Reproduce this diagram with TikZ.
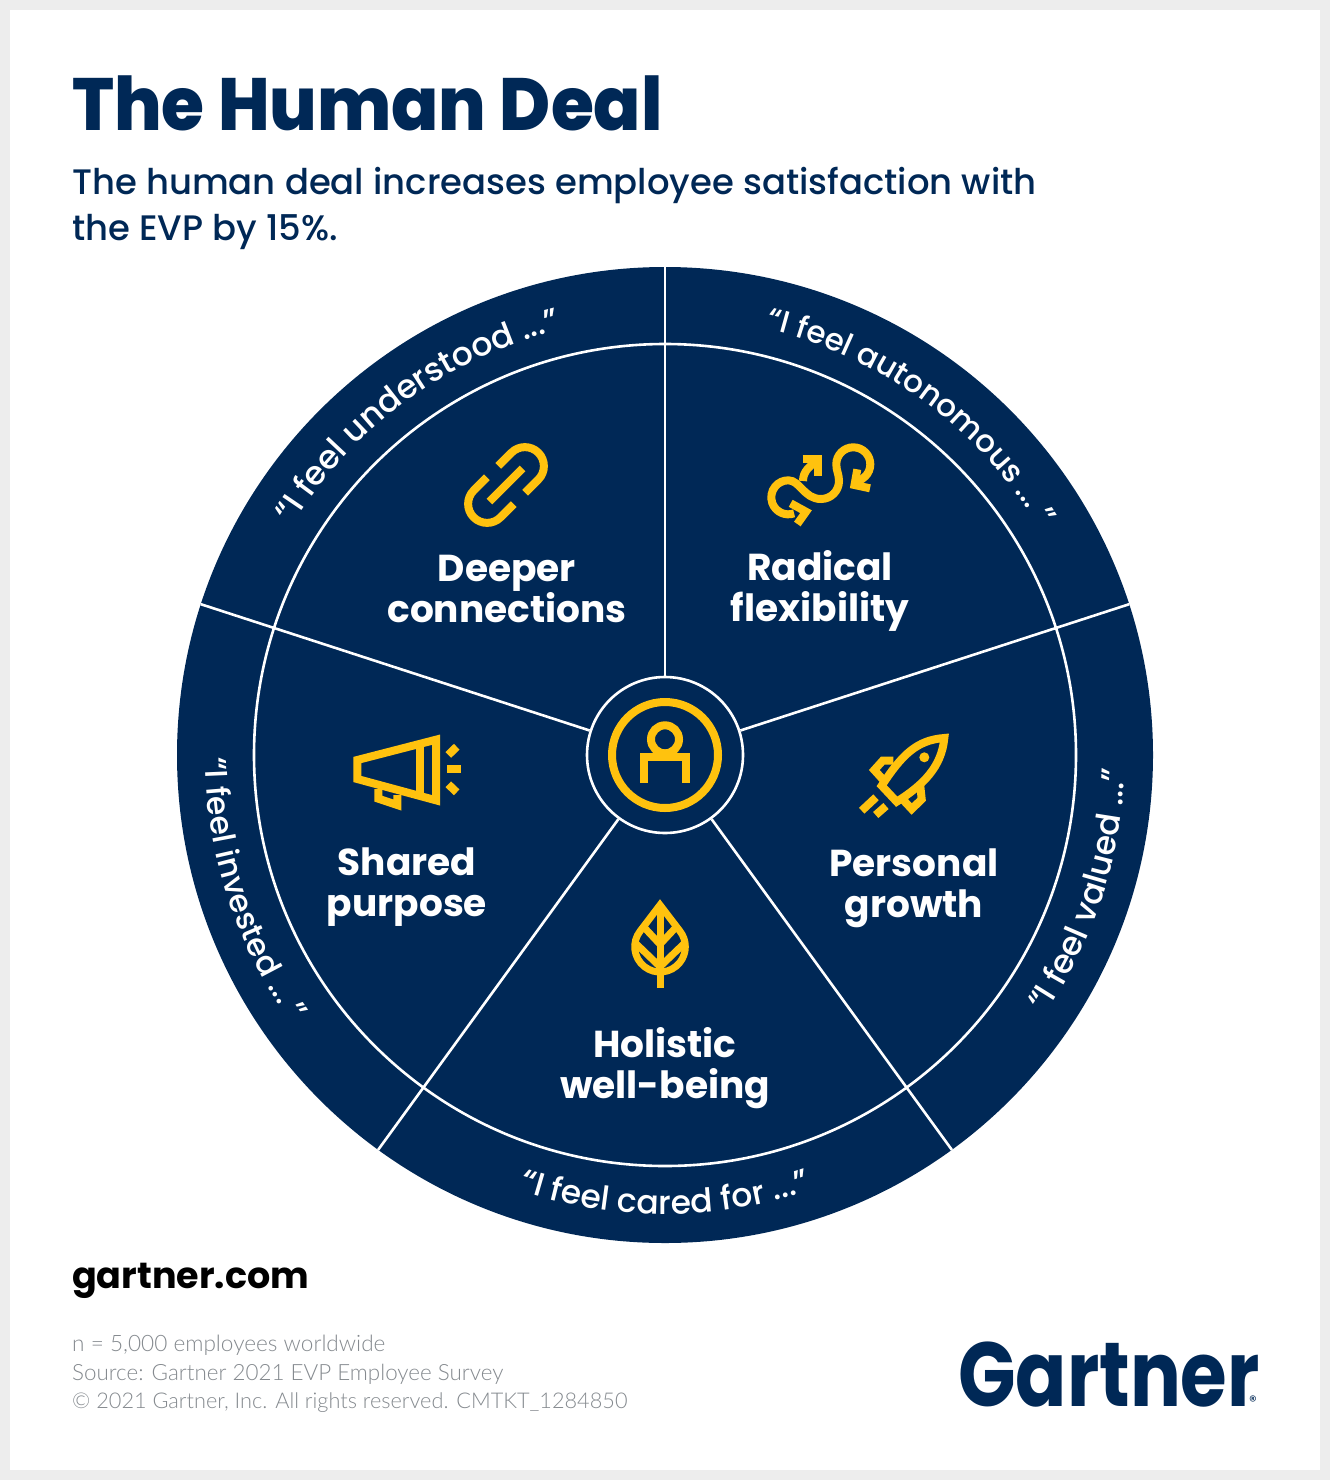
\documentclass[tikz,border=0pt]{standalone}
\usepackage{fontspec}
\setmainfont{Poppins}
\newfontfamily\midfont{Poppins Medium}
\newfontfamily\heavyfont{Poppins ExtraBold}
\newfontfamily\lightfont{Lato Light}
\usetikzlibrary{decorations.text}
\definecolor{navy}{HTML}{002856}
\definecolor{gold}{HTML}{FFC20E}
\definecolor{greytext}{HTML}{858A8F}
\definecolor{frame}{HTML}{EDEDED}
% text along the outer ring: [font size], start angle, end angle, radius, text
\newcommand{\ringlabel}[5][33]{%
    \path[decorate, decoration={text along path, text align=center,
            text={|\midfont\fontsize{#1}{#1}\selectfont\color{white}|#5}}]
        ([shift={(#2:#4)}]centre) arc[start angle=#2, end angle=#3, radius=#4];}
\tikzset{
    x=1pt, y=1pt,
    icon/.style={draw=gold, line width=8pt, miter limit=10},
    spoke/.style={draw=white, line width=2.6pt},
    sector/.style={white, font=\bfseries\fontsize{37.5}{41}\selectfont, align=center, inner sep=0pt},
    note/.style={greytext, anchor=base west, inner sep=0pt},
    pics/linkicon/.style={code={
        \begin{scope}[rotate=45]
            \draw[icon] (8,19) -- (26.7,19) arc[start angle=90, end angle=-90, radius=19] -- (8,-19);
            \draw[icon] (-8,19) -- (-26.7,19) arc[start angle=90, end angle=270, radius=19] -- (-8,-19);
            \draw[icon] (-23.5,0) -- (23.5,0);
        \end{scope}}},
    pics/flexicon/.style={code={
        \draw[icon] (-25.9,-28.3) arc[start angle=-70, end angle=-270, radius=17]
            .. controls (-20,4.7) and (-16,-14) .. (1,-14)
            arc[start angle=270, end angle=360, radius=18]
            .. controls (19,11) and (16.3,14) .. (16.3,20.7)
            arc[start angle=180, end angle=-45, radius=17] -- (34.5,0);
        \draw[icon] (-29.3,-18.3) -- (-14,-26.7) -- (-22.7,-39);
        \draw[icon] (37.3,15.7) -- (34.5,0) -- (50,-3.3);
        \draw[icon] (-17,4) .. controls (-17,14) and (-10,19) .. (-1.3,25.7);
        \draw[icon] (-17.3,25.7) -- (-1.7,25.7) -- (-1.7,9.3);}},
    pics/hornicon/.style={code={
        \draw[icon] (-49.7,10) -- (29,30.3) -- (29,-30.3) -- (-49.7,-9) -- cycle;
        \draw[icon] (13,26.3) -- (13,-26);
        \draw[icon] (-28.7,-19) -- (-28.7,-28.7) -- (-9.7,-35) -- (-9.7,-25);
        \draw[icon] (40.3,1) -- (53.7,1);
        \draw[icon] (41.3,15) -- (49.7,23.3);
        \draw[icon] (41.3,-14.3) -- (49.7,-22.3);}},
    pics/rocketicon/.style={code={
        \draw[icon] (39.3,37) .. controls (11.7,35) and (-3.3,20) .. (-23.3,-10.7) -- (-8.3,-26.7)
            .. controls (18.3,-10) and (36.7,8.3) .. cycle;
        \draw[icon] (-11.7,14.3) -- (-22.3,14.3) -- (-30.7,5) -- (-21,-5.7);
        \draw[icon] (15,-8.3) -- (16.7,-24.3) -- (6.7,-34) -- (-3.3,-23.3);
        \fill[gold] (19.3,17.7) circle[radius=5];
        \draw[icon] (-43.3,-35.7) -- (-29,-22.3);
        \draw[icon] (-29.3,-40) -- (-19,-31);}},
    pics/leaficon/.style={code={
        \draw[icon, line width=7pt] (0,40) -- (-19.8,14) arc[start angle=141.6, end angle=398.4, radius=25.3] -- cycle;
        \draw[icon, line width=7pt] (0,40) -- (0,-42.7);
        \foreach \s in {-1,1} {
            \draw[icon, line width=7pt] (\s*15,16.7) -- (0,0.7);
            \draw[icon, line width=7pt] (\s*26,3.3) -- (0,-21.7);
        }}},
    pics/personicon/.style={code={
        \draw[icon] (0,15.7) circle[radius=14];
        \draw[icon] (-21,-27.7) -- (-21,-2.3) -- (20.7,-2.3) -- (20.7,-27.7);}},
}
\begin{document}
\begin{tikzpicture}
    \fill[frame] (0,0) rectangle (1330,-1480);
    \useasboundingbox (0,0) rectangle (1330,-1480);
    \fill[white] (10,-10) rectangle (1320,-1470);
    \coordinate (centre) at (665,-755);

    \node[navy, font=\heavyfont\fontsize{74}{74}\selectfont, anchor=base west, inner sep=0pt, xscale=.94, transform shape] (title) at (72,-130) {The Human Deal};
    \node[navy, font=\midfont\fontsize{35.4}{46}\selectfont, anchor=base west, inner sep=0pt] (subone) at (72,-194) {The human deal increases employee satisfaction with};
    \node[navy, font=\midfont\fontsize{35.4}{46}\selectfont, anchor=base west, inner sep=0pt] (subtwo) at (72,-240) {the EVP by 15\%.};

    % wheel
    \node[circle, fill=navy, inner sep=0pt, minimum size=976pt] (dish) at (centre) {};
    \node[circle, draw=white, line width=2.6pt, inner sep=0pt, minimum size=822pt] (ring) at (centre) {};
    \node[circle, draw=white, fill=navy, line width=2.6pt, inner sep=0pt, minimum size=156pt] (hub) at (centre) {};
    \foreach \a in {90,18,-54,-126,162}
        \draw[spoke] (hub.\a) -- (dish.\a);
    \node[circle, draw=gold, line width=8pt, inner sep=0pt, minimum size=106pt] (hubring) at (centre) {};
    \pic at (centre) {personicon};

    \pic at (506,-485) {linkicon};
    \pic at (820,-485) {flexicon};
    \pic at (407,-770) {hornicon};
    \pic at (905,-775) {rocketicon};
    \pic at (660,-945) {leaficon};

    \node[sector] (deeper) at (507,-589) {Deeper\\connections};
    \node[sector] (radical) at (820,-591) {Radical\\flexibility};
    \node[sector] (shared) at (407,-887) {Shared\\purpose};
    \node[sector] (personal) at (914,-888) {Personal\\growth};
    \node[sector] (holistic) at (665,-1068) {Holistic\\well-being};

    \ringlabel{156}{96}{438}{“I feel understood ...”}
    \ringlabel[31]{84}{24}{438}{“I feel autonomous ... ”}
    \ringlabel{-48}{12}{460}{“I feel valued ...”}
    \ringlabel{-120}{-60}{459}{“I feel cared for ...”}
    \ringlabel[31.5]{168}{228}{460}{“I feel invested ... ”}

    \node[black, font=\bfseries\fontsize{36.5}{38}\selectfont, anchor=base west, inner sep=0pt] (site) at (72,-1288) {gartner.com};
    \node[note, font=\lightfont\fontsize{22.6}{23}\selectfont] (sample) at (72,-1351) {n = 5,000 employees worldwide};
    \node[note, font=\lightfont\fontsize{22.4}{23}\selectfont] (source) at (72,-1380) {Source: Gartner 2021 EVP Employee Survey};
    \node[note, font=\lightfont\fontsize{21.7}{23}\selectfont] (rights) at (72,-1408) {© 2021 Gartner, Inc. All rights reserved. CMTKT\_1284850};

    \node[navy, font=\bfseries\fontsize{91}{91}\selectfont, anchor=base west, inner sep=0pt, xscale=.83, transform shape] (logo) at (958,-1406) {Gartner};
    \node[navy, font=\fontsize{15}{15}\selectfont, anchor=base, inner sep=0pt] (mark) at (1253,-1406) {®};
\end{tikzpicture}
\end{document}
